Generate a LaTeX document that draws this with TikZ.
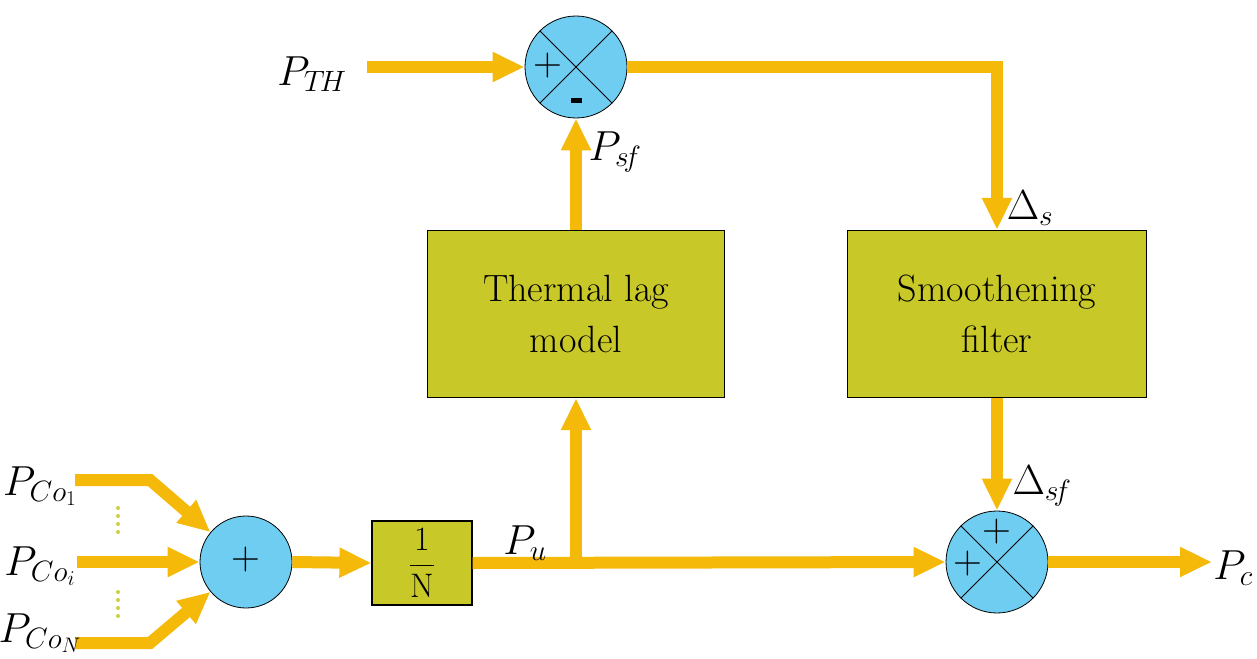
\RequirePackage{fix-cm}
\documentclass[tikz,border=0pt]{standalone}
\usetikzlibrary{arrows.meta}
\definecolor{arr}{RGB}{245,185,10}
\definecolor{sumc}{RGB}{110,205,240}
\definecolor{boxc}{RGB}{200,200,40}
\definecolor{dotc}{RGB}{200,210,60}
\begin{document}
\begin{tikzpicture}[x=1pt,y=-1pt,
  flow/.style={draw=arr, line width=12pt, -{Triangle[length=32pt,width=28pt]}},
  sumnode/.style={circle, draw=black, line width=0.8pt, fill=sumc, minimum size=102pt, inner sep=0pt},
  block/.style={draw=black, line width=1.2pt, fill=boxc, minimum width=297pt, minimum height=167pt, align=center, font=\fontsize{38}{51}\selectfont},
  lbl/.style={font=\fontsize{42}{42}\selectfont, inner sep=0pt},
  sign/.style={font=\fontsize{40}{40}\selectfont, inner sep=0pt},
  dotline/.style={draw=dotc, line width=4pt, line cap=round, dash pattern=on 0pt off 8pt}
]
\useasboundingbox (0,0) rectangle (1257,658);

% nodes
\node[sumnode] (s1) at (576,67) {};
\node[block] (tl) at (576,314) {Thermal lag\\model};
\node[block, minimum width=299pt] (sf) at (997,314) {Smoothening\\filter};
\node[sumnode] (s3) at (997,562) {};
\node[sumnode, minimum size=92pt] (s2) at (246,562) {};
\node[draw=black, line width=1.2pt, fill=boxc, minimum width=100pt, minimum height=84pt, inner sep=0pt, font=\fontsize{34}{34}\selectfont] (nb) at (422,563) {$\displaystyle\frac{1}{\mathrm{N}}$};

% crosses in summing junctions
\draw[line width=0.9pt] (s1.45) -- (s1.225) (s1.135) -- (s1.315);
\draw[line width=0.9pt] (s3.45) -- (s3.225) (s3.135) -- (s3.315);

% signs
\node[sign] (p1) at (548,66) {+};
\node[fill=black, minimum width=11pt, minimum height=5pt, inner sep=0pt] (m1) at (576,101) {};
\node[sign] (p3a) at (997,532) {+};
\node[sign] (p3b) at (968,564) {+};
\node[sign] (p2) at (246,560) {+};

% coordinates
\coordinate (pth) at (367,67);
\coordinate (pc) at (1212,562);
\coordinate (br) at (576,562);
\coordinate (i1) at (75,480);
\coordinate (b1) at (150,480);
\coordinate (ii) at (77,562);
\coordinate (iN) at (75,643);
\coordinate (bN) at (150,643);

% connectors
\draw[flow] (pth) -- (s1.west);
\draw[flow] (s1.east) -| (sf.north);
\draw[flow] (tl.north) -- (s1.south);
\draw[flow] (sf.south) -- (s3.north);
\draw[flow] (s3.east) -- (pc);
\draw[flow] (s2.east) -- (nb.west);
\draw[flow] (nb.east) -- (s3.west);
\draw[flow] (br) -- (tl.south);
\draw[flow] (i1) -- (b1) -- (s2.140);
\draw[flow] (ii) -- (s2.west);
\draw[flow] (iN) -- (bN) -- (s2.220);

% dots
\draw[dotline] (118,508) -- (118,536);
\draw[dotline] (118,592) -- (118,620);

% labels
\node[lbl] (lth) at (312,74) {$P_{T\!H}$};
\node[lbl] (lsf) at (615,152) {$P_{s\!f}$};
\node[lbl] (lds) at (1030,208) {$\Delta_{s}$};
\node[lbl] (ldsf) at (1042,486) {$\Delta_{s\!f}$};
\node[lbl] (lpu) at (525,543) {$P_{u}$};
\node[lbl] (lpc) at (1233,568) {$P_{c}$};
\node[lbl] (lc1) at (40,486) {$P_{Co_{1}}$};
\node[lbl] (lci) at (40,566) {$P_{Co_{i}}$};
\node[lbl] (lcn) at (40,633) {$P_{Co_{N}}$};
\end{tikzpicture}
\end{document}
